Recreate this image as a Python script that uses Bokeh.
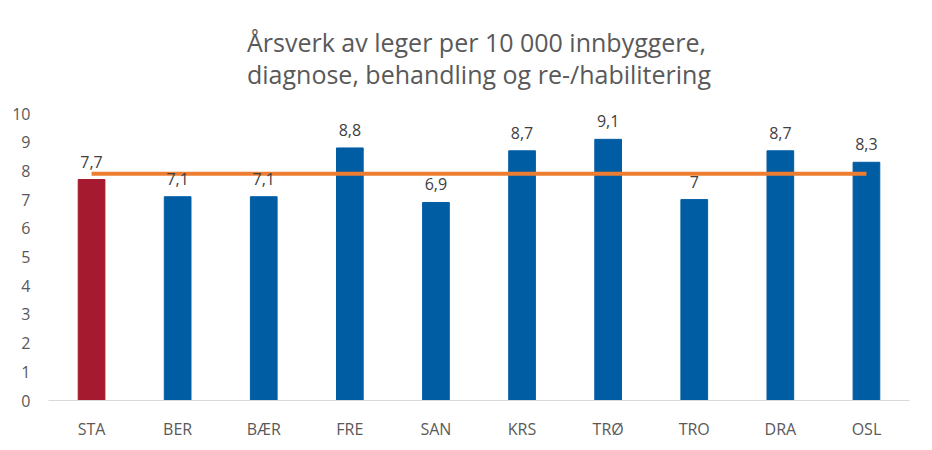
from bokeh.plotting import figure
from bokeh.models import ColumnDataSource, Title, Range1d, FixedTicker, LabelSet
from bokeh.core.properties import value
from bokeh.embed import file_html
from bokeh.resources import INLINE

categories = ["STA", "BER", "BÆR", "FRE", "SAN", "KRS", "TRØ", "TRO", "DRA", "OSL"]
values = [7.7, 7.1, 7.1, 8.8, 6.9, 8.7, 9.1, 7.0, 8.7, 8.3]
labels = ["7,7", "7,1", "7,1", "8,8", "6,9", "8,7", "9,1", "7", "8,7", "8,3"]
average = [7.9] * len(categories)
bar_colors = ["#A51A2E"] + ["#005DA4"] * (len(categories) - 1)
title_text = "Årsverk av leger per 10 000 innbyggere,\ndiagnose, behandling og re-/habilitering"

FONT = "Open Sans"

src = ColumnDataSource(dict(cat=categories, val=values, lab=labels, avg=average, color=bar_colors))

p = figure(x_range=categories, y_range=Range1d(0, 10), width=916, height=442,
           output_backend="svg", toolbar_location=None,
           min_border_left=48, min_border_right=7, min_border_bottom=41, min_border_top=112)

p.vbar(x="cat", top="val", width=0.31, color="color", source=src)
p.line(x="cat", y="avg", line_color="#ED7D31", line_width=4, source=src)

lbl = LabelSet(x="cat", y="val", text="lab", source=src, text_align="center",
               text_baseline="bottom", y_offset=12, text_font_size="16px",
               text_color="#404040", text_font=value(FONT))
p.add_layout(lbl)

p.add_layout(Title(text=title_text, align="center",
                   text_font_size="25px", text_font_style="normal", text_color="#595959",
                   text_font=FONT, standoff=45, text_line_height=0.95), "above")

p.xgrid.grid_line_color = None
p.ygrid.grid_line_color = None
p.outline_line_color = None

p.yaxis.ticker = FixedTicker(ticks=list(range(0, 11)))
p.yaxis.axis_line_color = None
p.yaxis.major_tick_line_color = None
p.yaxis.minor_tick_line_color = None
p.yaxis.major_label_text_font_size = "16px"
p.yaxis.major_label_text_color = "#595959"
p.yaxis.major_label_text_font = FONT
p.yaxis.major_label_standoff = 12

p.xaxis.axis_line_color = "#D9D9D9"
p.xaxis.axis_line_width = 1
p.xaxis.major_tick_line_color = None
p.xaxis.major_label_text_font_size = "16px"
p.xaxis.major_label_text_color = "#595959"
p.xaxis.major_label_text_font = FONT
p.xaxis.major_label_standoff = 11

open("out.html", "w").write(file_html(p, INLINE))
